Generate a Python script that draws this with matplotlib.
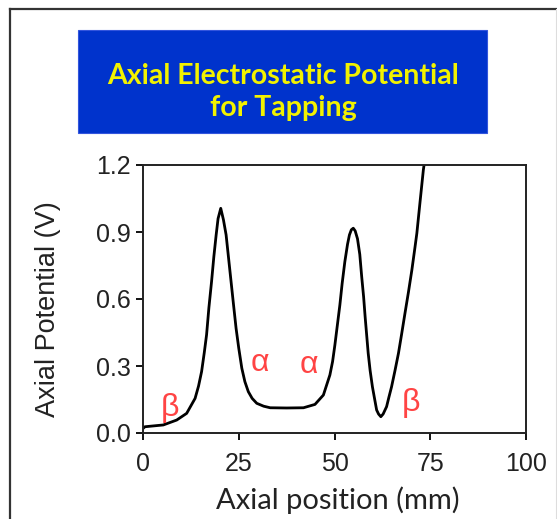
import matplotlib
matplotlib.use("Agg")
import matplotlib.pyplot as plt
from matplotlib.patches import Rectangle
from matplotlib.lines import Line2D

# axial position (mm) and potential (V)
pos = [0.0, 0.5, 5.3, 8.8, 11.4, 13.6, 14.5, 15.3, 16.0, 16.6, 17.2, 17.9,
       18.5, 19.1, 19.6, 20.3, 21.0, 21.7, 22.3, 22.9, 23.6, 24.3, 25.0, 25.8,
       26.6, 27.5, 28.5, 29.7, 31.5, 33.2, 37.5, 41.9, 44.9, 47.1, 48.8, 49.5,
       50.1, 51.4, 52.0, 52.7, 53.4, 53.9, 54.4, 54.9, 55.4, 56.0, 56.6, 57.1,
       57.6, 58.0, 58.8, 59.3, 59.9, 60.5, 61.0, 61.5, 62.1, 62.7, 63.6, 64.2,
       64.9, 65.8, 66.7, 67.5, 68.4, 69.3, 70.2, 71.0, 71.5, 72.3, 73.2, 73.8]
pot = [0.02, 0.028, 0.036, 0.058, 0.088, 0.155, 0.21, 0.275, 0.36, 0.44,
       0.56, 0.678, 0.79, 0.887, 0.96, 1.006, 0.955, 0.887, 0.79, 0.693,
       0.58, 0.469, 0.38, 0.29, 0.23, 0.185, 0.155, 0.133, 0.12, 0.113,
       0.112, 0.113, 0.128, 0.17, 0.26, 0.32, 0.394, 0.573, 0.67, 0.767,
       0.845, 0.887, 0.91, 0.917, 0.905, 0.87, 0.80, 0.70, 0.61, 0.52,
       0.357, 0.28, 0.207, 0.15, 0.103, 0.085, 0.073, 0.085, 0.118, 0.16,
       0.207, 0.28, 0.357, 0.44, 0.536, 0.63, 0.73, 0.83, 0.894, 1.029,
       1.178, 1.25]

labels = ["β", "α", "α", "β"]
label_x = [7.0, 30.5, 43.4, 70.0]
label_y = [0.11, 0.312, 0.305, 0.133]

xticks = [0, 25, 50, 75, 100]
yticks = [0.0, 0.3, 0.6, 0.9, 1.2]

W, H = 557, 519
fig = plt.figure(figsize=(W / 100, H / 100), dpi=100)
fig.patch.set_facecolor("white")

def fx(px):
    return px / W

def fy(py):
    return 1 - py / H

# outer frame (top and left edges of a slide box)
fig.add_artist(Line2D([fx(10), 1], [fy(9), fy(9)], color="#333333", lw=1.6))
fig.add_artist(Line2D([fx(10), fx(10)], [fy(9), 0], color="#333333", lw=1.6))
fig.add_artist(Line2D([fx(556), fx(556)], [fy(9), 0], color="#dddddd", lw=0.8))

# blue title box
fig.add_artist(Rectangle((fx(78), fy(133)), fx(487) - fx(78), fy(30) - fy(133),
                         transform=fig.transFigure, facecolor="#0033CC",
                         edgecolor="#3355dd", lw=0.8))
fig.text(fx(283), fy(76), "Axial Electrostatic Potential", ha="center", va="center",
         color="#F2F200", fontsize=20.5, fontweight="bold", family="Lato")
fig.text(fx(283), fy(108), "for Tapping", ha="center", va="center",
         color="#F2F200", fontsize=20.5, fontweight="bold", family="Lato")

ax = fig.add_axes([fx(143), fy(433), fx(526) - fx(143), fy(165) - fy(433)])
ax.plot(pos, pot, color="black", lw=2.0, solid_joinstyle="round")
ax.set_xlim(0, 100)
ax.set_ylim(0, 1.2)
ax.set_xticks(xticks)
ax.set_yticks(yticks)
ax.set_xticklabels([str(v) for v in xticks], family="Liberation Sans", fontsize=18,
                   color="#222222")
ax.set_yticklabels(["%.1f" % v for v in yticks], family="Liberation Sans", fontsize=18,
                   color="#222222")
ax.tick_params(direction="out", length=5, width=1.3)
ax.tick_params(axis="x", pad=9)
ax.tick_params(axis="y", pad=4)
for s in ax.spines.values():
    s.set_linewidth(1.4)
    s.set_color("#222222")

for t, x, y in zip(labels, label_x, label_y):
    ax.text(x, y, t, color="#FF4444", fontsize=23, ha="center", va="center",
            family="Liberation Sans")

fig.text(fx(48), fy(309), "Axial Potential (V)", rotation=90, ha="center", va="center",
         family="Liberation Sans", fontsize=19.5, color="#222222")
fig.text(fx(338), fy(500), "Axial position (mm)", ha="center", va="center",
         family="Lato", fontsize=21, color="#222222")

fig.savefig("out.png", dpi=100)
